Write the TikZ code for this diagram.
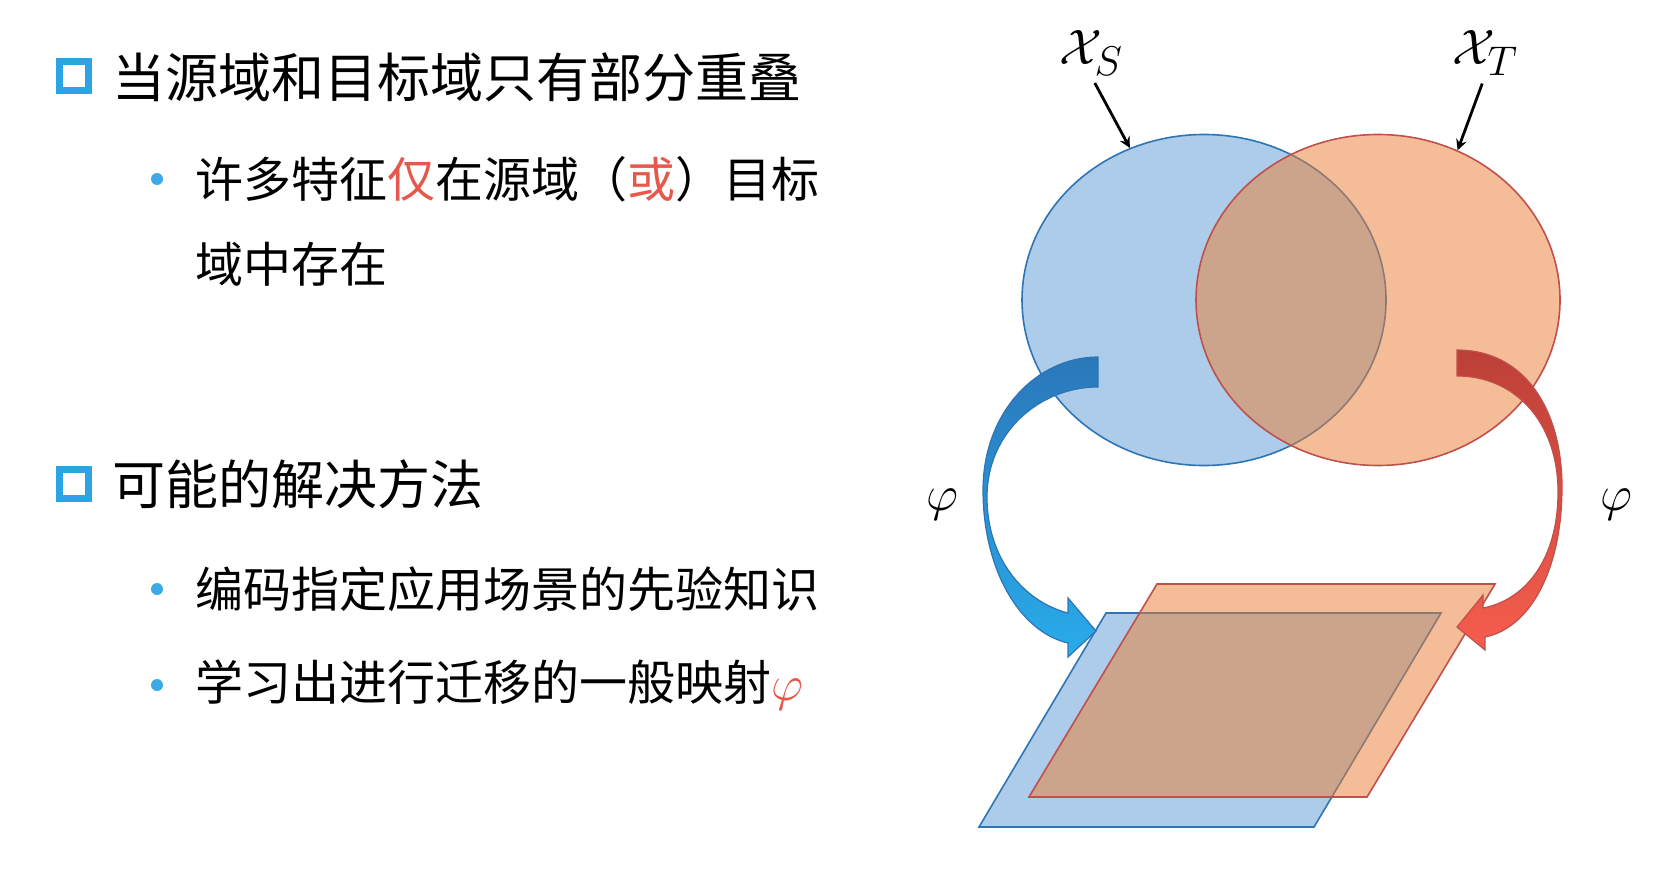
\documentclass[tikz,border=0pt]{standalone}
\usepackage{fontspec}
\newfontfamily\cjk{Noto Sans CJK SC}
\usepackage{xcolor}
\usepackage{amsmath}
\usepackage{tikz}
\usetikzlibrary{shapes.geometric, arrows}
\definecolor{bulletblue}{HTML}{2CA3E3}
\definecolor{dotblue}{HTML}{3DA9E6}
\definecolor{hlred}{HTML}{E5584B}
\definecolor{srcfill}{HTML}{5B9BD5}
\definecolor{srcline}{HTML}{2E75B6}
\definecolor{tgtfill}{HTML}{ED7D31}
\definecolor{tgtline}{HTML}{C0504D}
\definecolor{srctop}{HTML}{2A78BA}
\definecolor{srcbot}{HTML}{29ABEA}
\definecolor{tgttop}{HTML}{BC4038}
\definecolor{tgtbot}{HTML}{F65D4D}
\tikzstyle{headbox} = [rectangle, draw=bulletblue, line width=3.5pt, minimum size=14.5pt, inner sep=0pt]
\tikzstyle{dot} = [circle, fill=dotblue, minimum size=6pt, inner sep=0pt]
\tikzstyle{heading} = [anchor=west, inner sep=0pt, font=\cjk\fontsize{26.5pt}{30pt}\selectfont]
\tikzstyle{item} = [anchor=west, inner sep=0pt, align=left, font=\cjk\fontsize{24pt}{42.5pt}\selectfont]
\tikzstyle{srcdomain} = [ellipse, minimum width=182pt, minimum height=165.5pt, inner sep=0pt, draw=srcline, line width=0.8pt, fill=srcfill, fill opacity=0.5]
\tikzstyle{tgtdomain} = [ellipse, minimum width=182pt, minimum height=165.5pt, inner sep=0pt, draw=tgtline, line width=0.8pt, fill=tgtfill, fill opacity=0.5]
\tikzstyle{setlabel} = [inner sep=0pt, font=\fontsize{28pt}{32pt}\selectfont]
\tikzstyle{maplabel} = [inner sep=0pt, font=\fontsize{32pt}{36pt}\selectfont]
\tikzstyle{arrow} = [line width=1.4pt,->,>=stealth, shorten <=4pt]
\tikzstyle{srcplane} = [draw=srcline, line width=0.8pt, fill=srcfill, fill opacity=0.5]
\tikzstyle{tgtplane} = [draw=tgtline, line width=0.8pt, fill=tgtfill, fill opacity=0.5]
\tikzstyle{srcmap} = [draw=srcline, line width=0.6pt, top color=srctop, bottom color=srcbot]
\tikzstyle{tgtmap} = [draw=tgtline, line width=0.6pt, top color=tgttop, bottom color=tgtbot]

\begin{document}
\begin{tikzpicture}[x=0.5pt, y=-0.5pt]
\fill [white] (0,0) rectangle (1679,893);
\useasboundingbox (0,0) rectangle (1679,893);

\node (sq1) [headbox] at (74,76) {};
\node (head1) [heading] at (112,77) {当源域和目标域只有部分重叠};
\node (dot1) [dot] at (157,179) {};
\node (item1) [item] at (195,221.5) {许多特征\textcolor{hlred}{仅}在源域（\textcolor{hlred}{或}）目标\\域中存在};
\node (sq2) [headbox] at (74,484) {};
\node (head2) [heading] at (112,484) {可能的解决方法};
\node (dot2) [dot] at (157,589) {};
\node (item2) [item] at (195,589) {编码指定应用场景的先验知识};
\node (dot3) [dot] at (157,685) {};
\node (item3) [item] at (195,685) {学习出进行迁移的一般映射\textcolor{hlred}{\fontsize{28pt}{30pt}\selectfont$\varphi$}};

\node (srcdom) [srcdomain] at (1204,300) {};
\node (tgtdom) [tgtdomain] at (1378,300) {};
\node (xs) [setlabel] at (1091,53) {$\mathcal{X}_S$};
\node (xt) [setlabel] at (1485,53) {$\mathcal{X}_T$};
\draw [arrow] (xs.south) -- (srcdom.116);
\draw [arrow] (xt.south) -- (tgtdom.62);

\draw [srcplane] (1106,613) -- (1441,613) -- (1314,827) -- (979,827) -- cycle;
\draw [tgtplane] (1157,584) -- (1495,584) -- (1367,797) -- (1029,797) -- cycle;

\path [srcmap] (1098,357) .. controls (1037,357) and (983,412) .. (983,490)
  .. controls (983,570) and (1020,632) .. (1068,643)
  -- (1068,657) -- (1096,631) -- (1068,598) -- (1068,613)
  .. controls (1025,602) and (987,560) .. (987,497)
  .. controls (987,432) and (1040,387) .. (1098,387) -- cycle;
\path [tgtmap] (1457,350) .. controls (1525,350) and (1562,410) .. (1562,487)
  .. controls (1562,570) and (1530,628) .. (1485,637)
  -- (1485,650) -- (1457,627) -- (1483,595) -- (1483,608)
  .. controls (1525,600) and (1558,560) .. (1558,492)
  .. controls (1558,422) and (1515,376) .. (1457,376) -- cycle;

\node (phil) [maplabel] at (942,505) {$\varphi$};
\node (phir) [maplabel] at (1616,505) {$\varphi$};
\end{tikzpicture}
\end{document}
